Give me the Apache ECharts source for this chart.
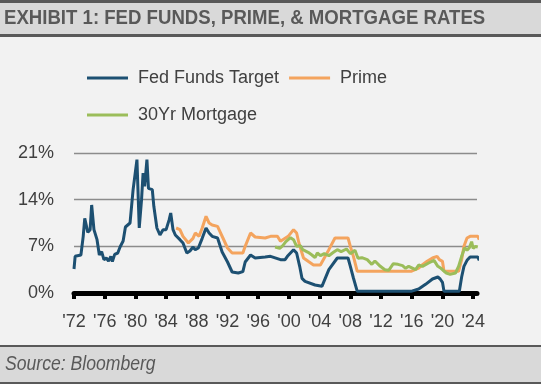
<!DOCTYPE html>
<html>
<head>
<meta charset="utf-8">
<script src="https://cdn.jsdelivr.net/npm/echarts@6/dist/echarts.min.js"></script>
<style>
html,body{margin:0;padding:0;background:#f2f2f2;}
#c{width:541px;height:384px;}
</style>
</head>
<body>
<div id="c"></div>
<script>
const titleText = 'EXHIBIT 1: FED FUNDS, PRIME, & MORTGAGE RATES';
const sourceText = 'Source: Bloomberg';
const seriesNames = ['Fed Funds Target', 'Prime', '30Yr Mortgage'];
const tickYears = [1972,1976,1980,1984,1988,1992,1996,2000,2004,2008,2012,2016,2020,2024];
const yTicks = [0, 7, 14, 21];

const fedFunds = [
[1972.0,3.6],[1972.15,5.5],[1972.9,5.7],[1973.2,8.5],[1973.4,11.2],[1973.8,9.1],[1974.1,9.5],
[1974.3,13.2],[1974.6,9.5],[1975.0,8.0],[1975.3,5.7],[1975.6,6.2],[1975.9,5.0],[1976.2,5.25],
[1976.5,4.8],[1976.8,5.5],[1977.0,4.7],[1977.3,5.8],[1977.7,6.0],[1978.0,6.9],[1978.4,7.8],
[1978.7,9.9],[1979.3,10.5],[1979.7,15.5],[1980.2,20.0],[1980.5,9.75],[1980.8,14.0],[1981.0,18.0],
[1981.2,16.0],[1981.5,20.0],[1981.7,15.7],[1982.2,15.5],[1982.4,13.0],[1982.8,9.75],[1983.2,8.7],
[1983.6,9.5],[1984.0,9.5],[1984.4,11.0],[1984.6,12.0],[1984.9,9.5],[1985.2,8.7],[1985.8,8.0],
[1986.2,7.5],[1986.7,6.0],[1987.1,6.3],[1987.5,6.9],[1987.8,6.5],[1988.2,6.75],[1988.7,8.2],
[1989.2,9.75],[1989.6,9.0],[1990.0,8.5],[1990.7,8.25],[1991.3,6.15],[1992.0,4.65],[1992.6,3.15],
[1993.4,3.0],[1994.0,3.2],[1994.3,4.65],[1995.0,5.7],[1995.6,5.25],[1996.9,5.4],[1997.6,5.5],
[1998.9,5.0],[1999.5,5.0],[1999.8,5.5],[2000.6,6.5],[2001.0,6.0],[2001.4,4.0],[2001.7,2.2],
[2002.1,1.75],[2003.4,1.2],[2004.3,1.0],[2005.2,3.5],[2006.3,5.25],[2007.7,5.25],[2008.0,4.0],
[2008.4,2.25],[2008.9,0.25],[2015.9,0.25],[2016.9,0.6],[2017.8,1.3],[2018.7,2.1],[2019.4,2.4],
[2019.7,2.1],[2020.0,1.6],[2020.2,0.25],[2022.2,0.25],[2022.5,2.4],[2022.8,4.0],[2023.2,4.9],
[2023.6,5.4],[2024.6,5.4],[2024.8,4.9]
];

const prime = [
[1985.3,9.75],[1985.8,9.5],[1986.2,8.5],[1986.9,7.5],[1987.5,8.2],[1987.8,9.0],[1988.3,8.5],
[1988.7,9.75],[1989.2,11.5],[1989.6,10.5],[1990.0,10.2],[1990.7,10.0],[1991.4,8.25],[1992.0,6.75],
[1992.6,6.0],[1994.0,6.0],[1994.3,7.0],[1995.0,9.0],[1995.6,8.4],[1996.9,8.25],[1997.6,8.5],
[1998.5,8.5],[1998.9,7.75],[1999.9,8.5],[2000.6,9.5],[2001.0,9.0],[2001.3,7.5],[2001.9,5.25],
[2002.5,4.75],[2003.2,4.2],[2004.1,4.2],[2005.2,6.5],[2006.0,8.25],[2007.7,8.25],[2008.0,7.0],
[2008.4,5.5],[2008.9,3.25],[2015.9,3.25],[2016.9,3.75],[2017.4,4.25],[2018.0,4.75],[2018.7,5.25],
[2019.3,5.5],[2019.6,5.0],[2020.0,4.75],[2020.2,3.25],[2022.1,3.25],[2022.5,5.0],[2022.8,7.0],
[2023.2,8.25],[2023.6,8.5],[2024.6,8.5],[2024.8,8.0]
];

const mortgage = [
[1998.2,6.9],[1998.8,6.7],[1999.2,7.1],[1999.6,7.7],[2000.2,8.3],[2000.6,8.0],[2001.0,7.0],
[2001.5,7.1],[2001.8,6.5],[2002.5,6.1],[2003.0,5.7],[2003.4,5.3],[2003.7,6.0],[2004.1,5.6],
[2004.6,5.9],[2005.2,5.6],[2005.8,6.1],[2006.3,6.5],[2006.8,6.2],[2007.5,6.6],[2008.0,5.9],
[2008.6,6.4],[2009.0,5.2],[2009.5,5.3],[2010.2,5.0],[2010.8,4.3],[2011.2,4.8],[2011.9,4.0],
[2012.5,3.5],[2013.0,3.4],[2013.6,4.4],[2014.2,4.3],[2014.8,4.1],[2015.2,3.7],[2015.6,4.0],
[2016.5,3.5],[2016.9,4.2],[2017.4,4.0],[2018.2,4.5],[2018.9,4.9],[2019.4,4.0],[2019.8,3.7],
[2020.5,3.0],[2021.0,2.8],[2021.7,3.0],[2022.1,4.0],[2022.5,5.5],[2022.9,6.8],[2023.2,6.4],
[2023.5,6.8],[2023.8,7.7],[2024.0,6.7],[2024.3,7.0],[2024.6,6.9]
];

const colors = ['#1d5072', '#f4a45e', '#9bbd5a'];
const FONT = '"Liberation Sans Narrow", "Liberation Sans", Arial, sans-serif';

const chart = echarts.init(document.getElementById('c'), null, {renderer: 'canvas'});
chart.setOption({
  backgroundColor: '#f2f2f2',
  animation: false,
  color: colors,
  graphic: [
    {type: 'rect', left: 0, top: 0, shape: {width: 541, height: 3}, style: {fill: '#595959'}},
    {type: 'rect', left: 0, top: 3, shape: {width: 541, height: 31}, style: {fill: '#d9d9d9'}},
    {type: 'rect', left: 0, top: 34, shape: {width: 541, height: 3}, style: {fill: '#595959'}},
    {type: 'text', x: 4, y: 8, scaleX: 0.93, style: {text: titleText, fill: '#595959', font: 'bold 20px ' + FONT}},
    {type: 'rect', left: 0, top: 345, shape: {width: 541, height: 2}, style: {fill: '#595959'}},
    {type: 'rect', left: 0, top: 347, shape: {width: 541, height: 35}, style: {fill: '#d9d9d9'}},
    {type: 'rect', left: 0, top: 382, shape: {width: 541, height: 2}, style: {fill: '#595959'}},
    {type: 'text', x: 5, y: 354, scaleX: 0.88, style: {text: sourceText, fill: '#595959', font: 'italic 20px ' + FONT}}
  ],
  legend: [
    {data: [seriesNames[0], seriesNames[1]], left: 82, top: 64, icon: 'rect', itemWidth: 41, itemHeight: 3,
     itemGap: 10, textStyle: {fontFamily: FONT, fontSize: 18, color: '#404040', padding: [0, 0, 0, 5]}},
    {data: [seriesNames[2]], left: 82, top: 101, icon: 'rect', itemWidth: 41, itemHeight: 3,
     textStyle: {fontFamily: FONT, fontSize: 18, color: '#404040', padding: [0, 0, 0, 5]}}
  ],
  grid: {left: 74, right: 64, top: 153, bottom: 91, containLabel: false},
  xAxis: {
    type: 'value', min: 1972, max: 2024.5,
    axisLine: {show: true, onZero: false, lineStyle: {color: '#000', width: 5}},
    axisTick: {show: true, customValues: tickYears, length: 6, lineStyle: {color: '#000', width: 4}},
    axisLabel: {customValues: tickYears, margin: 20, fontFamily: FONT, fontSize: 18, color: '#404040',
      formatter: v => "'" + String(Math.round(v)).slice(2)},
    splitLine: {show: false}
  },
  yAxis: {
    type: 'value', min: 0, max: 21, interval: 7,
    axisLine: {show: false}, axisTick: {show: false},
    axisLabel: {margin: 20, fontFamily: FONT, fontSize: 18, color: '#404040', formatter: '{value}%'},
    splitLine: {lineStyle: {color: '#8c8c8c', width: 1.3}}
  },
  series: [
    {name: seriesNames[0], type: 'line', data: fedFunds, symbol: 'none', lineStyle: {width: 3, color: colors[0]}, z: 5},
    {name: seriesNames[1], type: 'line', data: prime, symbol: 'none', lineStyle: {width: 3, color: colors[1]}, z: 4},
    {name: seriesNames[2], type: 'line', data: mortgage, symbol: 'none', lineStyle: {width: 3, color: colors[2]}, z: 6}
  ]
});
</script>
</body>
</html>
